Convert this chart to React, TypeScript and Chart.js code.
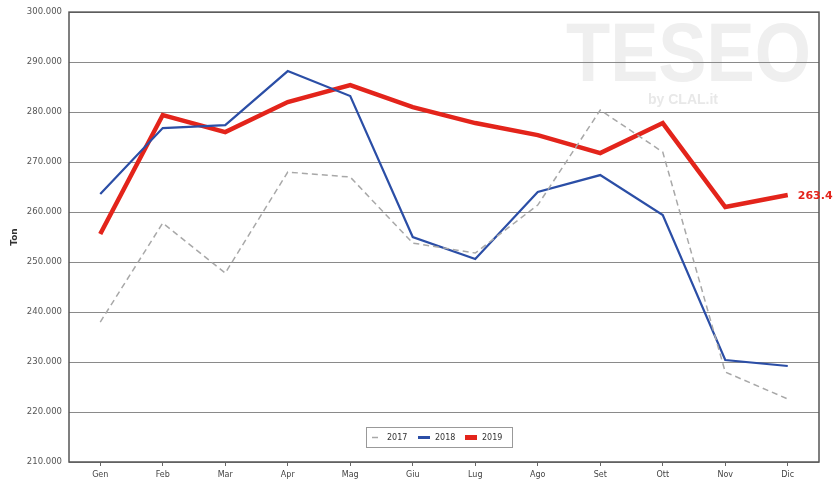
import React, { useEffect, useRef } from "react";
import { Chart, registerables } from "chart.js";

Chart.register(...registerables);

const months = ["Gen", "Feb", "Mar", "Apr", "Mag", "Giu", "Lug", "Ago", "Set", "Ott", "Nov", "Dic"];
const series2017 = [238000, 257800, 247800, 268000, 267000, 253800, 251800, 261400, 280400, 272000, 228000, 222600];
const series2018 = [263600, 276800, 277400, 288200, 283200, 255000, 250600, 264000, 267400, 259400, 230400, 229200];
const series2019 = [255600, 279400, 276000, 282000, 285400, 281000, 277800, 275400, 271800, 277800, 261000, 263400];
const yAxisTitle = "Ton";
const endLabel = "263.4";

const fmt = (v: number) => String(Math.round(v)).replace(/\B(?=(\d{3})+(?!\d))/g, ".");

const FONT = "'DejaVu Sans', Verdana, sans-serif";

const decorPlugin = {
  id: "decor",
  beforeDraw(chart: any) {
    const { ctx } = chart;
    ctx.save();
    ctx.fillStyle = "#efefef";
    ctx.font = `bold 84px 'Liberation Sans', Arial, sans-serif`;
    ctx.textBaseline = "alphabetic";
    ctx.textAlign = "left";
    ctx.fillText("TESEO", 566, 81, 245);
    ctx.fillStyle = "#e8e8e8";
    ctx.font = `bold 14px 'Liberation Sans', Arial, sans-serif`;
    ctx.fillText("by CLAL.it", 648, 104);
    ctx.restore();
  },
  afterDraw(chart: any) {
    const { ctx, chartArea } = chart;
    ctx.save();
    ctx.strokeStyle = "#555";
    ctx.lineWidth = 1.5;
    ctx.strokeRect(chartArea.left, chartArea.top, chartArea.right - chartArea.left, chartArea.bottom - chartArea.top);

    const meta = chart.getDatasetMeta(2);
    const last = meta.data[meta.data.length - 1];
    ctx.fillStyle = "#e3241b";
    ctx.font = `bold 11px ${FONT}`;
    ctx.textBaseline = "middle";
    ctx.textAlign = "left";
    ctx.fillText(endLabel, last.x + 10, last.y + 1);

    const bx = 366, by = 427, bw = 146, bh = 20;
    ctx.fillStyle = "#ffffff";
    ctx.fillRect(bx, by, bw, bh);
    ctx.strokeStyle = "#999";
    ctx.lineWidth = 1;
    ctx.strokeRect(bx + 0.5, by + 0.5, bw, bh);
    const cy = by + bh / 2 + 0.5;
    const items = chart.data.datasets;
    const xs = [372, 418, 465];
    ctx.font = `8px ${FONT}`;
    ctx.textBaseline = "middle";
    items.forEach((ds: any, i: number) => {
      const x = xs[i];
      ctx.strokeStyle = ds.borderColor;
      ctx.lineWidth = i === 2 ? 5 : i === 1 ? 3 : 1.5;
      ctx.beginPath();
      ctx.moveTo(x, cy);
      ctx.lineTo(x + (i === 0 ? 6 : 12), cy);
      ctx.stroke();
      ctx.fillStyle = "#333";
      ctx.fillText(ds.label, x + (i === 0 ? 15 : 17), cy);
    });
    ctx.restore();
  },
};

export default function App() {
  const ref = useRef<HTMLCanvasElement>(null);
  useEffect(() => {
    document.body.style.margin = "0";
    const chart = new Chart(ref.current!, {
      type: "line",
      data: {
        labels: months,
        datasets: [
          {
            label: "2017",
            data: series2017,
            borderColor: "#a8a8a8",
            borderWidth: 1.5,
            borderDash: [6, 4],
            pointRadius: 0,
            tension: 0,
            fill: false,
          },
          {
            label: "2018",
            data: series2018,
            borderColor: "#2b4ea6",
            borderWidth: 2.2,
            pointRadius: 0,
            tension: 0,
            fill: false,
          },
          {
            label: "2019",
            data: series2019,
            borderColor: "#e3241b",
            borderWidth: 4.5,
            pointRadius: 0,
            tension: 0,
            fill: false,
          },
        ],
      },
      options: {
        animation: false,
        responsive: false,
        maintainAspectRatio: false,
        layout: { padding: { top: 12, right: 16, left: 9, bottom: 0 } },
        plugins: {
          legend: { display: false },
          tooltip: { enabled: false },
        },
        scales: {
          x: {
            type: "category",
            offset: true,
            grid: {
              display: true,
              drawOnChartArea: false,
              drawTicks: true,
              tickLength: 4,
              color: "#666",
            },
            border: { display: false },
            ticks: {
              color: "#444",
              font: { family: FONT, size: 8 },
              padding: 4,
              maxRotation: 0,
              autoSkip: false,
            },
            afterFit(scale: any) {
              scale.height = 17;
            },
          },
          y: {
            min: 210000,
            max: 300000,
            grid: {
              color: "#8a8a8a",
              lineWidth: 1,
              drawTicks: false,
            },
            border: { display: false },
            ticks: {
              stepSize: 10000,
              color: "#555",
              font: { family: FONT, size: 8.5 },
              padding: 7,
              callback: (v: any) => fmt(Number(v)),
            },
            title: {
              display: true,
              text: yAxisTitle,
              color: "#333",
              font: { family: FONT, size: 9, weight: "bold" },
              padding: 0,
            },
            afterFit(scale: any) {
              scale.width = 60;
            },
          },
        },
      },
      plugins: [decorPlugin],
    });
    return () => chart.destroy();
  }, []);
  return (
    <div style={{ position: "absolute", left: 0, top: 0, width: 835, height: 479, background: "#fff" }}>
      <canvas ref={ref} width={835} height={479} style={{ width: 835, height: 479 }} />
    </div>
  );
}
